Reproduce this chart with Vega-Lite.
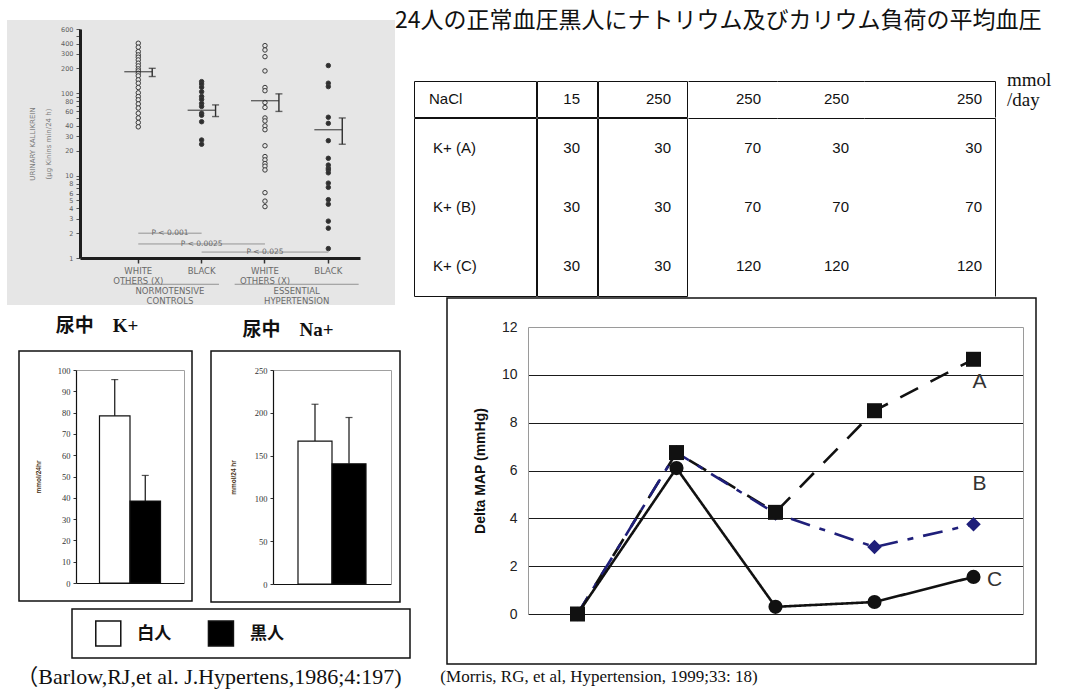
{
  "$schema": "https://vega.github.io/schema/vega-lite/v6.json",
  "padding": {"left": 7, "top": 0, "right": 0, "bottom": 0},
  "background": "white",
  "title": {
    "text": "24人の正常血圧黒人にナトリウム及びカリウム負荷の平均血圧",
    "anchor": "start", "frame": "group", "dx": 388, "offset": -44, "baseline": "middle",
    "font": "Noto Sans CJK JP", "fontSize": 23, "fontWeight": "normal", "color": "#111111"
  },
  "config": {
    "view": {"stroke": null},
    "font": "Liberation Sans",
    "axis": {"labelFont": "Liberation Sans", "titleFont": "Liberation Sans", "grid": false},
    "text": {"color": "#111111"}
  },
  "resolve": {"scale": {"fill": "independent", "color": "independent", "shape": "independent", "size": "independent", "strokeDash": "independent"}},
  "datasets": {
    "kallikrein": [
      {"group": "Normotensive White", "race": "White", "value": 403},
      {"group": "Normotensive White", "race": "White", "value": 361},
      {"group": "Normotensive White", "race": "White", "value": 319},
      {"group": "Normotensive White", "race": "White", "value": 291},
      {"group": "Normotensive White", "race": "White", "value": 273},
      {"group": "Normotensive White", "race": "White", "value": 253},
      {"group": "Normotensive White", "race": "White", "value": 231},
      {"group": "Normotensive White", "race": "White", "value": 214},
      {"group": "Normotensive White", "race": "White", "value": 197},
      {"group": "Normotensive White", "race": "White", "value": 186},
      {"group": "Normotensive White", "race": "White", "value": 174},
      {"group": "Normotensive White", "race": "White", "value": 162},
      {"group": "Normotensive White", "race": "White", "value": 145},
      {"group": "Normotensive White", "race": "White", "value": 132},
      {"group": "Normotensive White", "race": "White", "value": 117},
      {"group": "Normotensive White", "race": "White", "value": 101},
      {"group": "Normotensive White", "race": "White", "value": 91},
      {"group": "Normotensive White", "race": "White", "value": 83},
      {"group": "Normotensive White", "race": "White", "value": 74},
      {"group": "Normotensive White", "race": "White", "value": 66},
      {"group": "Normotensive White", "race": "White", "value": 57},
      {"group": "Normotensive White", "race": "White", "value": 50},
      {"group": "Normotensive White", "race": "White", "value": 44},
      {"group": "Normotensive White", "race": "White", "value": 39},
      {"group": "Normotensive Black", "race": "Black", "value": 138},
      {"group": "Normotensive Black", "race": "Black", "value": 129},
      {"group": "Normotensive Black", "race": "Black", "value": 118},
      {"group": "Normotensive Black", "race": "Black", "value": 104},
      {"group": "Normotensive Black", "race": "Black", "value": 91},
      {"group": "Normotensive Black", "race": "Black", "value": 84},
      {"group": "Normotensive Black", "race": "Black", "value": 75},
      {"group": "Normotensive Black", "race": "Black", "value": 69},
      {"group": "Normotensive Black", "race": "Black", "value": 57},
      {"group": "Normotensive Black", "race": "Black", "value": 54},
      {"group": "Normotensive Black", "race": "Black", "value": 45},
      {"group": "Normotensive Black", "race": "Black", "value": 27},
      {"group": "Normotensive Black", "race": "Black", "value": 24},
      {"group": "Hypertensive White", "race": "White", "value": 377},
      {"group": "Hypertensive White", "race": "White", "value": 334},
      {"group": "Hypertensive White", "race": "White", "value": 277},
      {"group": "Hypertensive White", "race": "White", "value": 186},
      {"group": "Hypertensive White", "race": "White", "value": 117},
      {"group": "Hypertensive White", "race": "White", "value": 107},
      {"group": "Hypertensive White", "race": "White", "value": 77},
      {"group": "Hypertensive White", "race": "White", "value": 67},
      {"group": "Hypertensive White", "race": "White", "value": 50},
      {"group": "Hypertensive White", "race": "White", "value": 46},
      {"group": "Hypertensive White", "race": "White", "value": 40},
      {"group": "Hypertensive White", "race": "White", "value": 36},
      {"group": "Hypertensive White", "race": "White", "value": 23},
      {"group": "Hypertensive White", "race": "White", "value": 17},
      {"group": "Hypertensive White", "race": "White", "value": 15.5},
      {"group": "Hypertensive White", "race": "White", "value": 14},
      {"group": "Hypertensive White", "race": "White", "value": 13},
      {"group": "Hypertensive White", "race": "White", "value": 11.7},
      {"group": "Hypertensive White", "race": "White", "value": 6.2},
      {"group": "Hypertensive White", "race": "White", "value": 4.9},
      {"group": "Hypertensive White", "race": "White", "value": 4.2},
      {"group": "Hypertensive Black", "race": "Black", "value": 216},
      {"group": "Hypertensive Black", "race": "Black", "value": 132},
      {"group": "Hypertensive Black", "race": "Black", "value": 120},
      {"group": "Hypertensive Black", "race": "Black", "value": 51},
      {"group": "Hypertensive Black", "race": "Black", "value": 43},
      {"group": "Hypertensive Black", "race": "Black", "value": 26.5},
      {"group": "Hypertensive Black", "race": "Black", "value": 16.2},
      {"group": "Hypertensive Black", "race": "Black", "value": 13.4},
      {"group": "Hypertensive Black", "race": "Black", "value": 12.3},
      {"group": "Hypertensive Black", "race": "Black", "value": 11.7},
      {"group": "Hypertensive Black", "race": "Black", "value": 10.8},
      {"group": "Hypertensive Black", "race": "Black", "value": 8.1},
      {"group": "Hypertensive Black", "race": "Black", "value": 7.2},
      {"group": "Hypertensive Black", "race": "Black", "value": 5.1},
      {"group": "Hypertensive Black", "race": "Black", "value": 4.5},
      {"group": "Hypertensive Black", "race": "Black", "value": 2.8},
      {"group": "Hypertensive Black", "race": "Black", "value": 2.3},
      {"group": "Hypertensive Black", "race": "Black", "value": 1.3}
    ],
    "kallikrein_stats": [
      {"group": "Normotensive White", "mean": 182, "lo": 159, "hi": 200},
      {"group": "Normotensive Black", "mean": 62, "lo": 52, "hi": 72},
      {"group": "Hypertensive White", "mean": 81, "lo": 60, "hi": 98},
      {"group": "Hypertensive Black", "mean": 36, "lo": 24, "hi": 50}
    ],
    "urine": [
      {"ion": "K+", "race": "白人", "mean": 78.5, "hi": 95.5},
      {"ion": "K+", "race": "黒人", "mean": 38.5, "hi": 50.5},
      {"ion": "Na+", "race": "白人", "mean": 167, "hi": 210},
      {"ion": "Na+", "race": "黒人", "mean": 140.5, "hi": 194.5}
    ],
    "diet": [
      {"row": "NaCl", "phase": 1, "amount": 15},
      {"row": "NaCl", "phase": 2, "amount": 250},
      {"row": "NaCl", "phase": 3, "amount": 250},
      {"row": "NaCl", "phase": 4, "amount": 250},
      {"row": "NaCl", "phase": 5, "amount": 250},
      {"row": "K+  (A)", "phase": 1, "amount": 30},
      {"row": "K+  (A)", "phase": 2, "amount": 30},
      {"row": "K+  (A)", "phase": 3, "amount": 70},
      {"row": "K+  (A)", "phase": 4, "amount": 30},
      {"row": "K+  (A)", "phase": 5, "amount": 30},
      {"row": "K+  (B)", "phase": 1, "amount": 30},
      {"row": "K+  (B)", "phase": 2, "amount": 30},
      {"row": "K+  (B)", "phase": 3, "amount": 70},
      {"row": "K+  (B)", "phase": 4, "amount": 70},
      {"row": "K+  (B)", "phase": 5, "amount": 70},
      {"row": "K+  (C)", "phase": 1, "amount": 30},
      {"row": "K+  (C)", "phase": 2, "amount": 30},
      {"row": "K+  (C)", "phase": 3, "amount": 120},
      {"row": "K+  (C)", "phase": 4, "amount": 120},
      {"row": "K+  (C)", "phase": 5, "amount": 120}
    ],
    "map": [
      {"series": "A", "phase": 1, "delta": 0},
      {"series": "A", "phase": 2, "delta": 6.75},
      {"series": "A", "phase": 3, "delta": 4.25},
      {"series": "A", "phase": 4, "delta": 8.5},
      {"series": "A", "phase": 5, "delta": 10.65},
      {"series": "B", "phase": 1, "delta": 0},
      {"series": "B", "phase": 2, "delta": 6.75},
      {"series": "B", "phase": 3, "delta": 4.2},
      {"series": "B", "phase": 4, "delta": 2.8},
      {"series": "B", "phase": 5, "delta": 3.75},
      {"series": "C", "phase": 1, "delta": 0},
      {"series": "C", "phase": 2, "delta": 6.1},
      {"series": "C", "phase": 3, "delta": 0.3},
      {"series": "C", "phase": 4, "delta": 0.5},
      {"series": "C", "phase": 5, "delta": 1.55}
    ]
  },
  "spacing": 2,
  "hconcat": [
    {
      "spacing": 0,
      "resolve": {"scale": {"fill": "independent"}},
      "vconcat": [
        {"width": 1, "height": 20, "data": {"values": []}, "mark": {"type": "point", "opacity": 0}},
        {
          "width": 388,
          "height": 285,
          "view": {"fill": "#e6e6e6", "stroke": null},
          "resolve": {"axis": {"x": "independent", "y": "independent"}},
          "layer": [
            {
              "data": {"name": "kallikrein"},
              "mark": {"type": "point", "shape": "circle", "filled": true, "size": 20, "stroke": "#3a3a3a", "strokeWidth": 1, "opacity": 1},
              "encoding": {
                "x": {
                  "field": "group", "type": "nominal", "title": null,
                  "scale": {"type": "band", "domain": ["Normotensive White", "Normotensive Black", "Hypertensive White", "Hypertensive Black"], "range": [73, 353], "paddingInner": 0, "paddingOuter": 0.21, "align": 1},
                  "axis": {"orient": "bottom", "offset": -47, "domainColor": "#1e1e1e", "domainWidth": 3, "tickColor": "#333333", "tickSize": 5, "tickWidth": 1.5, "labelColor": "#6a6a6a", "labelFont": "DejaVu Sans", "labelFontSize": 8.5, "labelPadding": 3, "labelLineHeight": 10, "labelAngle": 0,
                    "labelExpr": "indexof(datum.label, 'White') >= 0 ? ['WHITE', 'OTHERS (X)'] : 'BLACK'"}
                },
                "y": {
                  "field": "value", "type": "quantitative", "title": ["URINARY KALLIKREIN", "(μg Kinins min/24 h)"],
                  "scale": {"type": "log", "domain": [1, 600], "range": [238, 9], "nice": false},
                  "axis": {"orient": "left", "offset": -73, "grid": false, "labelOverlap": false,
                    "values": [1, 2, 3, 4, 5, 6, 7, 8, 9, 10, 20, 30, 40, 50, 60, 70, 80, 90, 100, 200, 300, 400, 500, 600],
                    "labelExpr": "indexof([7, 9, 50, 70, 90, 500], datum.value) >= 0 ? '' : '' + datum.value",
                    "domainColor": "#1e1e1e", "domainWidth": 3, "tickColor": "#555555", "tickSize": 4, "tickWidth": 1,
                    "labelColor": "#5e5e5e", "labelFont": "DejaVu Sans", "labelFontSize": 6.5, "labelPadding": 3,
                    "titleColor": "#7a7a7a", "titleFont": "DejaVu Sans", "titleFontSize": 7, "titleFontWeight": "normal", "titlePadding": 9, "titleLineHeight": 16}
                },
                "fill": {"field": "race", "type": "nominal", "scale": {"domain": ["White", "Black"], "range": ["#e6e6e6", "#2e2e2e"]}, "legend": null}
              }
            },
            {
              "data": {"name": "kallikrein_stats"},
              "mark": {"type": "point", "shape": "stroke", "size": 784, "color": "#2e2e2e", "strokeWidth": 1.4},
              "encoding": {
                "x": {"field": "group", "type": "nominal", "axis": null},
                "y": {"field": "mean", "type": "quantitative", "axis": null}
              }
            },
            {
              "data": {"name": "kallikrein_stats"},
              "mark": {"type": "rule", "color": "#2e2e2e", "strokeWidth": 1.4},
              "encoding": {
                "x": {"field": "group", "type": "nominal", "bandPosition": 0.72, "axis": null},
                "y": {"field": "lo", "type": "quantitative", "axis": null},
                "y2": {"field": "hi"}
              }
            },
            {
              "data": {"name": "kallikrein_stats"},
              "mark": {"type": "point", "shape": "stroke", "size": 49, "color": "#2e2e2e", "strokeWidth": 1.4},
              "encoding": {
                "x": {"field": "group", "type": "nominal", "bandPosition": 0.72, "axis": null},
                "y": {"field": "lo", "type": "quantitative", "axis": null}
              }
            },
            {
              "data": {"name": "kallikrein_stats"},
              "mark": {"type": "point", "shape": "stroke", "size": 49, "color": "#2e2e2e", "strokeWidth": 1.4},
              "encoding": {
                "x": {"field": "group", "type": "nominal", "bandPosition": 0.72, "axis": null},
                "y": {"field": "hi", "type": "quantitative", "axis": null}
              }
            },
            {
              "data": {"values": [
                {"group": "Normotensive White", "label": "NORMOTENSIVE\nCONTROLS"},
                {"group": "Hypertensive White", "label": "ESSENTIAL\nHYPERTENSION"}
              ]},
              "mark": {"type": "text", "lineBreak": "\n", "baseline": "top", "font": "DejaVu Sans", "fontSize": 8.5, "lineHeight": 10, "color": "#6a6a6a"},
              "encoding": {
                "x": {"field": "group", "type": "nominal", "bandPosition": 1, "axis": null},
                "y": {"datum": 0.44, "axis": null},
                "text": {"field": "label"}
              }
            },
            {
              "data": {"values": [{"group": "Normotensive White"}]},
              "mark": {"type": "point", "shape": "stroke", "size": 9604, "color": "#707070", "strokeWidth": 1},
              "encoding": {
                "x": {"field": "group", "type": "nominal", "bandPosition": 1, "axis": null},
                "y": {"datum": 0.48, "axis": null}
              }
            },
            {
              "data": {"values": [{"group": "Hypertensive White"}]},
              "mark": {"type": "point", "shape": "stroke", "size": 15376, "color": "#707070", "strokeWidth": 1},
              "encoding": {
                "x": {"field": "group", "type": "nominal", "bandPosition": 1, "axis": null},
                "y": {"datum": 0.48, "axis": null}
              }
            },
            {
              "data": {"values": [{"from": "Normotensive White", "to": "Normotensive Black", "label": "P < 0.001"}]},
              "layer": [
                {
                  "mark": {"type": "rule", "color": "#808080", "strokeWidth": 0.8},
                  "encoding": {"x": {"field": "from", "type": "nominal", "axis": null}, "x2": {"field": "to"}, "y": {"datum": 2, "axis": null}}
                },
                {
                  "mark": {"type": "text", "font": "DejaVu Sans", "fontSize": 7.5, "color": "#6a6a6a"},
                  "encoding": {"x": {"field": "from", "type": "nominal", "bandPosition": 1, "axis": null}, "y": {"datum": 2, "axis": null}, "text": {"field": "label"}}
                }
              ]
            },
            {
              "data": {"values": [{"from": "Normotensive White", "to": "Hypertensive White", "mid": "Normotensive Black", "label": "P < 0.0025"}]},
              "layer": [
                {
                  "mark": {"type": "rule", "color": "#808080", "strokeWidth": 0.8},
                  "encoding": {"x": {"field": "from", "type": "nominal", "axis": null}, "x2": {"field": "to"}, "y": {"datum": 1.48, "axis": null}}
                },
                {
                  "mark": {"type": "text", "font": "DejaVu Sans", "fontSize": 7.5, "color": "#6a6a6a"},
                  "encoding": {"x": {"field": "mid", "type": "nominal", "axis": null}, "y": {"datum": 1.48, "axis": null}, "text": {"field": "label"}}
                }
              ]
            },
            {
              "data": {"values": [{"from": "Normotensive Black", "to": "Hypertensive Black", "mid": "Hypertensive White", "label": "P < 0.025"}]},
              "layer": [
                {
                  "mark": {"type": "rule", "color": "#808080", "strokeWidth": 0.8},
                  "encoding": {"x": {"field": "from", "type": "nominal", "axis": null}, "x2": {"field": "to"}, "y": {"datum": 1.18, "axis": null}}
                },
                {
                  "mark": {"type": "text", "font": "DejaVu Sans", "fontSize": 7.5, "color": "#6a6a6a"},
                  "encoding": {"x": {"field": "mid", "type": "nominal", "axis": null}, "y": {"datum": 1.18, "axis": null}, "text": {"field": "label"}}
                }
              ]
            }
          ]
        },
        {"width": 1, "height": 3, "data": {"values": []}, "mark": {"type": "point", "opacity": 0}},
        {
          "spacing": 0,
          "hconcat": [
            {"width": 180, "height": 38, "data": {"values": [{"label": "尿中　K+"}]}, "mark": {"type": "text", "font": "Liberation Serif, Noto Sans CJK JP", "fontSize": 19, "fontWeight": "bold", "dy": -2}, "encoding": {"text": {"field": "label"}}},
            {"width": 202, "height": 38, "data": {"values": [{"label": "尿中　Na+"}]}, "mark": {"type": "text", "font": "Liberation Serif, Noto Sans CJK JP", "fontSize": 19, "fontWeight": "bold", "dy": 2}, "encoding": {"text": {"field": "label"}}}
          ]
        },
        {"width": 1, "height": 3, "data": {"values": []}, "mark": {"type": "point", "opacity": 0}},
        {
          "spacing": 0,
          "hconcat": [
            {"width": 11, "height": 1, "data": {"values": []}, "mark": {"type": "point", "opacity": 0}},
            {
              "width": 173,
              "height": 250,
              "view": {"stroke": "#111111", "strokeWidth": 1.5},
              "data": {"name": "urine"},
              "transform": [{"filter": "datum.ion == 'K+'"}],
              "layer": [
                {
                  "mark": {"type": "bar", "stroke": "#111111", "strokeWidth": 1.2},
                  "encoding": {
                    "x": {"field": "race", "type": "nominal", "title": null,
                      "scale": {"domain": ["白人", "黒人"], "range": [57, 165], "paddingInner": 0, "paddingOuter": 0.77},
                      "axis": {"orient": "bottom", "offset": -18, "labels": false, "ticks": false, "domainColor": "#111111", "domainWidth": 1.2}},
                    "y": {"field": "mean", "type": "quantitative", "title": "mmol/24hr",
                      "scale": {"domain": [0, 100], "range": [232, 19], "nice": false},
                      "axis": {"orient": "left", "offset": -57, "grid": false, "values": [0, 10, 20, 30, 40, 50, 60, 70, 80, 90, 100],
                        "domainColor": "#111111", "domainWidth": 1.2, "tickColor": "#333333", "tickSize": 3,
                        "labelFont": "Liberation Serif", "labelFontSize": 8.5, "labelColor": "#333333", "labelPadding": 3,
                        "titleFont": "Liberation Sans", "titleFontSize": 6.5, "titleFontWeight": "bold", "titleColor": "#4a3418", "titlePadding": 16}},
                    "fill": {"field": "race", "type": "nominal", "scale": {"domain": ["白人", "黒人"], "range": ["#ffffff", "#000000"]}, "legend": null}
                  }
                },
                {
                  "mark": {"type": "rule", "color": "#111111", "strokeWidth": 1.2},
                  "encoding": {
                    "x": {"field": "race", "type": "nominal", "axis": null},
                    "y": {"field": "mean", "type": "quantitative", "axis": null},
                    "y2": {"field": "hi"}
                  }
                },
                {
                  "mark": {"type": "point", "shape": "stroke", "size": 49, "color": "#111111", "strokeWidth": 1.2},
                  "encoding": {
                    "x": {"field": "race", "type": "nominal", "axis": null},
                    "y": {"field": "hi", "type": "quantitative", "axis": null}
                  }
                },
                {
                  "mark": {"type": "point", "opacity": 0},
                  "encoding": {
                    "x": {"field": "race", "type": "nominal", "title": null, "axis": {"orient": "top", "offset": -19, "labels": false, "ticks": false, "domainColor": "#a0a0a0", "domainWidth": 1}},
                    "y": {"field": "mean", "type": "quantitative", "title": null, "axis": {"orient": "right", "offset": -8, "labels": false, "ticks": false, "grid": false, "domainColor": "#a0a0a0", "domainWidth": 1}}
                  }
                }
              ],
              "resolve": {"axis": {"x": "independent", "y": "independent"}}
            },
            {"width": 17, "height": 1, "data": {"values": []}, "mark": {"type": "point", "opacity": 0}},
            {
              "width": 189,
              "height": 251,
              "view": {"stroke": "#111111", "strokeWidth": 1.5},
              "data": {"name": "urine"},
              "transform": [{"filter": "datum.ion == 'Na+'"}],
              "layer": [
                {
                  "mark": {"type": "bar", "stroke": "#111111", "strokeWidth": 1.2},
                  "encoding": {
                    "x": {"field": "race", "type": "nominal", "title": null,
                      "scale": {"domain": ["白人", "黒人"], "range": [62, 180], "paddingInner": 0, "paddingOuter": 0.735},
                      "axis": {"orient": "bottom", "offset": -18, "labels": false, "ticks": false, "domainColor": "#111111", "domainWidth": 1.2}},
                    "y": {"field": "mean", "type": "quantitative", "title": "mmol/24 hr",
                      "scale": {"domain": [0, 250], "range": [233, 19], "nice": false},
                      "axis": {"orient": "left", "offset": -62, "grid": false, "values": [0, 50, 100, 150, 200, 250],
                        "domainColor": "#111111", "domainWidth": 1.2, "tickColor": "#333333", "tickSize": 3,
                        "labelFont": "Liberation Serif", "labelFontSize": 8.5, "labelColor": "#333333", "labelPadding": 3,
                        "titleFont": "Liberation Sans", "titleFontSize": 6.5, "titleFontWeight": "bold", "titleColor": "#4a3418", "titlePadding": 18}},
                    "fill": {"field": "race", "type": "nominal", "scale": {"domain": ["白人", "黒人"], "range": ["#ffffff", "#000000"]}, "legend": null}
                  }
                },
                {
                  "mark": {"type": "rule", "color": "#111111", "strokeWidth": 1.2},
                  "encoding": {
                    "x": {"field": "race", "type": "nominal", "axis": null},
                    "y": {"field": "mean", "type": "quantitative", "axis": null},
                    "y2": {"field": "hi"}
                  }
                },
                {
                  "mark": {"type": "point", "shape": "stroke", "size": 49, "color": "#111111", "strokeWidth": 1.2},
                  "encoding": {
                    "x": {"field": "race", "type": "nominal", "axis": null},
                    "y": {"field": "hi", "type": "quantitative", "axis": null}
                  }
                },
                {
                  "mark": {"type": "point", "opacity": 0},
                  "encoding": {
                    "x": {"field": "race", "type": "nominal", "title": null, "axis": {"orient": "top", "offset": -19, "labels": false, "ticks": false, "domainColor": "#a0a0a0", "domainWidth": 1}},
                    "y": {"field": "mean", "type": "quantitative", "title": null, "axis": {"orient": "right", "offset": -9, "labels": false, "ticks": false, "grid": false, "domainColor": "#a0a0a0", "domainWidth": 1}}
                  }
                }
              ],
              "resolve": {"axis": {"x": "independent", "y": "independent"}}
            }
          ]
        },
        {"width": 1, "height": 5, "data": {"values": []}, "mark": {"type": "point", "opacity": 0}},
        {
          "spacing": 0,
          "hconcat": [
            {"width": 64, "height": 1, "data": {"values": []}, "mark": {"type": "point", "opacity": 0}},
            {
              "width": 338,
              "height": 49,
              "view": {"stroke": "#111111", "strokeWidth": 1.5},
              "data": {"name": "urine"},
              "transform": [{"filter": "datum.ion == 'K+'"}],
              "encoding": {
                "x": {"field": "race", "type": "nominal", "axis": null, "scale": {"type": "point", "domain": ["白人", "黒人"], "padding": 1.016, "align": 0.161}}
              },
              "layer": [
                {
                  "mark": {"type": "square", "size": 625, "stroke": "#111111", "strokeWidth": 1.5, "opacity": 1},
                  "encoding": {"fill": {"field": "race", "type": "nominal", "scale": {"domain": ["白人", "黒人"], "range": ["#ffffff", "#000000"]}, "legend": null}}
                },
                {
                  "mark": {"type": "text", "align": "left", "dx": 29, "font": "Noto Sans CJK JP", "fontSize": 17, "fontWeight": "bold"},
                  "encoding": {"text": {"field": "race"}}
                }
              ]
            }
          ]
        },
        {"width": 1, "height": 4, "data": {"values": []}, "mark": {"type": "point", "opacity": 0}},
        {
          "spacing": 0,
          "hconcat": [
            {"width": 9, "height": 1, "data": {"values": []}, "mark": {"type": "point", "opacity": 0}},
            {"width": 384, "height": 28, "data": {"values": [{"label": "（Barlow,RJ,et al. J.Hypertens,1986;4:197)"}]}, "mark": {"type": "text", "font": "Liberation Serif, Noto Sans CJK JP", "fontSize": 22}, "encoding": {"text": {"field": "label"}}}
          ]
        }
      ]
    },
    {
      "spacing": 0,
      "vconcat": [
        {"width": 1, "height": 71, "data": {"values": []}, "mark": {"type": "point", "opacity": 0}},
        {
          "spacing": 0,
          "hconcat": [
            {
              "spacing": -1,
              "vconcat": [
                {
                  "spacing": -1,
                  "hconcat": [
                    {
                      "width": 122, "height": 36, "view": {"stroke": "#111111", "strokeWidth": 1},
                      "data": {"name": "diet"}, "transform": [{"filter": "datum.row == 'NaCl' && datum.phase == 1"}],
                      "mark": {"type": "text", "align": "left", "dx": 15, "fontSize": 15},
                      "encoding": {"x": {"field": "row", "type": "nominal", "bandPosition": 0, "axis": null, "scale": {"type": "band", "paddingInner": 0, "paddingOuter": 0}}, "text": {"field": "row"}}
                    },
                    {
                      "width": 60, "height": 36, "view": {"stroke": "#111111", "strokeWidth": 1},
                      "data": {"name": "diet"}, "transform": [{"filter": "datum.row == 'NaCl' && datum.phase == 1"}],
                      "mark": {"type": "text", "align": "right", "dx": -17, "fontSize": 15},
                      "encoding": {"x": {"field": "phase", "type": "ordinal", "bandPosition": 1, "axis": null, "scale": {"type": "band", "paddingInner": 0, "paddingOuter": 0}}, "text": {"field": "amount", "type": "quantitative", "format": "d"}}
                    },
                    {
                      "width": 89, "height": 36, "view": {"stroke": "#111111", "strokeWidth": 1},
                      "data": {"name": "diet"}, "transform": [{"filter": "datum.row == 'NaCl' && datum.phase == 2"}],
                      "mark": {"type": "text", "align": "right", "dx": -16, "fontSize": 15},
                      "encoding": {"x": {"field": "phase", "type": "ordinal", "bandPosition": 1, "axis": null, "scale": {"type": "band", "paddingInner": 0, "paddingOuter": 0}}, "text": {"field": "amount", "type": "quantitative", "format": "d"}}
                    },
                    {
                      "width": 89, "height": 36,
                      "data": {"name": "diet"}, "transform": [{"filter": "datum.row == 'NaCl' && datum.phase == 3"}],
                      "mark": {"type": "text", "align": "right", "dx": -16, "fontSize": 15},
                      "encoding": {"x": {"field": "phase", "type": "ordinal", "bandPosition": 1, "title": null, "scale": {"type": "band", "paddingInner": 0, "paddingOuter": 0}, "axis": {"orient": "top", "labels": false, "ticks": false, "domainColor": "#111111", "domainWidth": 1}}, "text": {"field": "amount", "type": "quantitative", "format": "d"}}
                    },
                    {
                      "width": 87, "height": 36,
                      "data": {"name": "diet"}, "transform": [{"filter": "datum.row == 'NaCl' && datum.phase == 4"}],
                      "mark": {"type": "text", "align": "right", "dx": -15, "fontSize": 15},
                      "encoding": {"x": {"field": "phase", "type": "ordinal", "bandPosition": 1, "title": null, "scale": {"type": "band", "paddingInner": 0, "paddingOuter": 0}, "axis": {"orient": "top", "labels": false, "ticks": false, "domainColor": "#111111", "domainWidth": 1}}, "text": {"field": "amount", "type": "quantitative", "format": "d"}}
                    },
                    {
                      "width": 131, "height": 36,
                      "data": {"name": "diet"}, "transform": [{"filter": "datum.row == 'NaCl' && datum.phase == 5"}],
                      "mark": {"type": "text", "align": "right", "dx": -13, "fontSize": 15},
                      "encoding": {
                        "x": {"field": "phase", "type": "ordinal", "bandPosition": 1, "title": null, "scale": {"type": "band", "paddingInner": 0, "paddingOuter": 0}, "axis": {"orient": "top", "labels": false, "ticks": false, "domainColor": "#111111", "domainWidth": 1}},
                        "y": {"field": "row", "type": "nominal", "title": null, "scale": {"type": "band", "paddingInner": 0, "paddingOuter": 0}, "axis": {"orient": "right", "labels": false, "ticks": false, "domainColor": "#111111", "domainWidth": 1}},
                        "text": {"field": "amount", "type": "quantitative", "format": "d"}
                      }
                    }
                  ]
                },
                {
                  "spacing": -1,
                  "hconcat": [
                    {
                      "width": 122, "height": 178, "view": {"stroke": "#111111", "strokeWidth": 1},
                      "data": {"name": "diet"}, "transform": [{"filter": "datum.row != 'NaCl' && datum.phase == 1"}],
                      "mark": {"type": "text", "align": "left", "dx": 19, "fontSize": 15},
                      "encoding": {
                        "x": {"field": "phase", "type": "ordinal", "bandPosition": 0, "axis": null, "scale": {"type": "band", "paddingInner": 0, "paddingOuter": 0}},
                        "y": {"field": "row", "type": "nominal", "axis": null, "scale": {"type": "band", "paddingInner": 0, "paddingOuter": 0}},
                        "text": {"field": "row"}
                      }
                    },
                    {
                      "width": 60, "height": 178, "view": {"stroke": "#111111", "strokeWidth": 1},
                      "data": {"name": "diet"}, "transform": [{"filter": "datum.row != 'NaCl' && datum.phase == 1"}],
                      "mark": {"type": "text", "align": "right", "dx": -17, "fontSize": 15},
                      "encoding": {
                        "x": {"field": "phase", "type": "ordinal", "bandPosition": 1, "axis": null, "scale": {"type": "band", "paddingInner": 0, "paddingOuter": 0}},
                        "y": {"field": "row", "type": "nominal", "axis": null, "scale": {"type": "band", "paddingInner": 0, "paddingOuter": 0}},
                        "text": {"field": "amount", "type": "quantitative", "format": "d"}
                      }
                    },
                    {
                      "width": 89, "height": 178, "view": {"stroke": "#111111", "strokeWidth": 1},
                      "data": {"name": "diet"}, "transform": [{"filter": "datum.row != 'NaCl' && datum.phase == 2"}],
                      "mark": {"type": "text", "align": "right", "dx": -16, "fontSize": 15},
                      "encoding": {
                        "x": {"field": "phase", "type": "ordinal", "bandPosition": 1, "axis": null, "scale": {"type": "band", "paddingInner": 0, "paddingOuter": 0}},
                        "y": {"field": "row", "type": "nominal", "axis": null, "scale": {"type": "band", "paddingInner": 0, "paddingOuter": 0}},
                        "text": {"field": "amount", "type": "quantitative", "format": "d"}
                      }
                    },
                    {
                      "width": 89, "height": 178,
                      "data": {"name": "diet"}, "transform": [{"filter": "datum.row != 'NaCl' && datum.phase == 3"}],
                      "mark": {"type": "text", "align": "right", "dx": -16, "fontSize": 15},
                      "encoding": {
                        "x": {"field": "phase", "type": "ordinal", "bandPosition": 1, "title": null, "scale": {"type": "band", "paddingInner": 0, "paddingOuter": 0}, "axis": {"orient": "top", "labels": false, "ticks": false, "domainColor": "#111111", "domainWidth": 1}},
                        "y": {"field": "row", "type": "nominal", "axis": null, "scale": {"type": "band", "paddingInner": 0, "paddingOuter": 0}},
                        "text": {"field": "amount", "type": "quantitative", "format": "d"}
                      }
                    },
                    {
                      "width": 87, "height": 178,
                      "data": {"name": "diet"}, "transform": [{"filter": "datum.row != 'NaCl' && datum.phase == 4"}],
                      "mark": {"type": "text", "align": "right", "dx": -15, "fontSize": 15},
                      "encoding": {
                        "x": {"field": "phase", "type": "ordinal", "bandPosition": 1, "title": null, "scale": {"type": "band", "paddingInner": 0, "paddingOuter": 0}, "axis": {"orient": "top", "labels": false, "ticks": false, "domainColor": "#111111", "domainWidth": 1}},
                        "y": {"field": "row", "type": "nominal", "axis": null, "scale": {"type": "band", "paddingInner": 0, "paddingOuter": 0}},
                        "text": {"field": "amount", "type": "quantitative", "format": "d"}
                      }
                    },
                    {
                      "width": 131, "height": 178,
                      "data": {"name": "diet"}, "transform": [{"filter": "datum.row != 'NaCl' && datum.phase == 5"}],
                      "mark": {"type": "text", "align": "right", "dx": -13, "fontSize": 15},
                      "encoding": {
                        "x": {"field": "phase", "type": "ordinal", "bandPosition": 1, "title": null, "scale": {"type": "band", "paddingInner": 0, "paddingOuter": 0}, "axis": {"orient": "top", "labels": false, "ticks": false, "domainColor": "#111111", "domainWidth": 1}},
                        "y": {"field": "row", "type": "nominal", "title": null, "scale": {"type": "band", "paddingInner": 0, "paddingOuter": 0}, "axis": {"orient": "right", "labels": false, "ticks": false, "domainColor": "#111111", "domainWidth": 1}},
                        "text": {"field": "amount", "type": "quantitative", "format": "d"}
                      }
                    }
                  ]
                }
              ]
            },
            {"width": 10, "height": 1, "data": {"values": []}, "mark": {"type": "point", "opacity": 0}},
            {"width": 56, "height": 38, "data": {"values": [{"label": "mmol\n/day"}]}, "mark": {"type": "text", "align": "left", "dx": -26, "dy": -20, "lineBreak": "\n", "lineHeight": 20, "font": "Liberation Serif", "fontSize": 19}, "encoding": {"text": {"field": "label"}}}
          ]
        },
        {
          "spacing": 0,
          "hconcat": [
            {"width": 32, "height": 1, "data": {"values": []}, "mark": {"type": "point", "opacity": 0}},
            {
              "width": 589,
              "height": 366,
              "view": {"stroke": "#111111", "strokeWidth": 1.5},
              "data": {"name": "map"},
              "layer": [
                {
                  "mark": {"type": "line", "strokeWidth": 2.6},
                  "encoding": {
                    "x": {"field": "phase", "type": "ordinal", "title": null, "scale": {"type": "band", "range": [81, 576], "paddingInner": 0, "paddingOuter": 0}, "axis": null},
                    "y": {"field": "delta", "type": "quantitative", "title": "Delta MAP (mmHg)",
                      "scale": {"domain": [0, 12], "range": [316, 29], "nice": false},
                      "axis": {"orient": "left", "offset": -81, "values": [0, 2, 4, 6, 8, 10, 12], "grid": true,
                        "gridColor": {"condition": {"test": "datum.value == 12", "value": "#9a9a9a"}, "value": "#1a1a1a"}, "gridWidth": 1.2,
                        "domainColor": "#9a9a9a", "domainWidth": 1, "ticks": false, "tickSize": 0, "labelPadding": 11,
                        "labelFontSize": 14, "labelColor": "#222222", "titleFontSize": 14, "titleFontWeight": "bold", "titleColor": "#111111", "titlePadding": 14}},
                    "color": {"field": "series", "type": "nominal", "scale": {"domain": ["A", "B", "C"], "range": ["#111111", "#1f1f7a", "#111111"]}, "legend": null},
                    "strokeDash": {"field": "series", "type": "nominal", "scale": {"domain": ["A", "B", "C"], "range": [[20, 14], [20, 10, 6, 10], [1, 0]]}, "legend": null}
                  }
                },
                {
                  "mark": {"type": "point", "filled": true, "opacity": 1},
                  "encoding": {
                    "x": {"field": "phase", "type": "ordinal", "axis": null},
                    "y": {"field": "delta", "type": "quantitative", "axis": null},
                    "shape": {"field": "series", "type": "nominal", "scale": {"domain": ["A", "B", "C"], "range": ["square", "diamond", "circle"]}, "legend": null},
                    "size": {"field": "series", "type": "nominal", "scale": {"domain": ["A", "B", "C"], "range": [225, 200, 160]}, "legend": null},
                    "color": {"field": "series", "type": "nominal", "scale": {"domain": ["A", "B", "C"], "range": ["#111111", "#1f1f7a", "#111111"]}, "legend": null},
                    "order": {"field": "series", "sort": "descending"}
                  }
                },
                {
                  "mark": {"type": "point", "opacity": 0},
                  "encoding": {
                    "x": {"field": "phase", "type": "ordinal", "axis": null},
                    "y": {"field": "delta", "type": "quantitative", "title": null, "axis": {"orient": "right", "offset": -13, "labels": false, "ticks": false, "grid": false, "domainColor": "#9a9a9a", "domainWidth": 1}}
                  }
                },
                {
                  "transform": [{"filter": "datum.series == 'A' && datum.phase == 5"}],
                  "mark": {"type": "text", "fontSize": 21, "color": "#333333", "dx": 6, "dy": 23},
                  "encoding": {"x": {"field": "phase", "type": "ordinal", "axis": null}, "y": {"field": "delta", "type": "quantitative", "axis": null}, "text": {"field": "series"}}
                },
                {
                  "transform": [{"filter": "datum.series == 'B' && datum.phase == 5"}],
                  "mark": {"type": "text", "fontSize": 21, "color": "#333333", "dx": 6, "dy": -40},
                  "encoding": {"x": {"field": "phase", "type": "ordinal", "axis": null}, "y": {"field": "delta", "type": "quantitative", "axis": null}, "text": {"field": "series"}}
                },
                {
                  "transform": [{"filter": "datum.series == 'C' && datum.phase == 5"}],
                  "mark": {"type": "text", "fontSize": 21, "color": "#333333", "dx": 21, "dy": 3},
                  "encoding": {"x": {"field": "phase", "type": "ordinal", "axis": null}, "y": {"field": "delta", "type": "quantitative", "axis": null}, "text": {"field": "series"}}
                }
              ],
              "resolve": {"axis": {"y": "independent"}}
            }
          ]
        },
        {"width": 370, "height": 24, "data": {"values": [{"label": "(Morris, RG, et al, Hypertension, 1999;33: 18)"}]}, "mark": {"type": "text", "font": "Liberation Serif", "fontSize": 17}, "encoding": {"text": {"field": "label"}}}
      ]
    }
  ]
}
